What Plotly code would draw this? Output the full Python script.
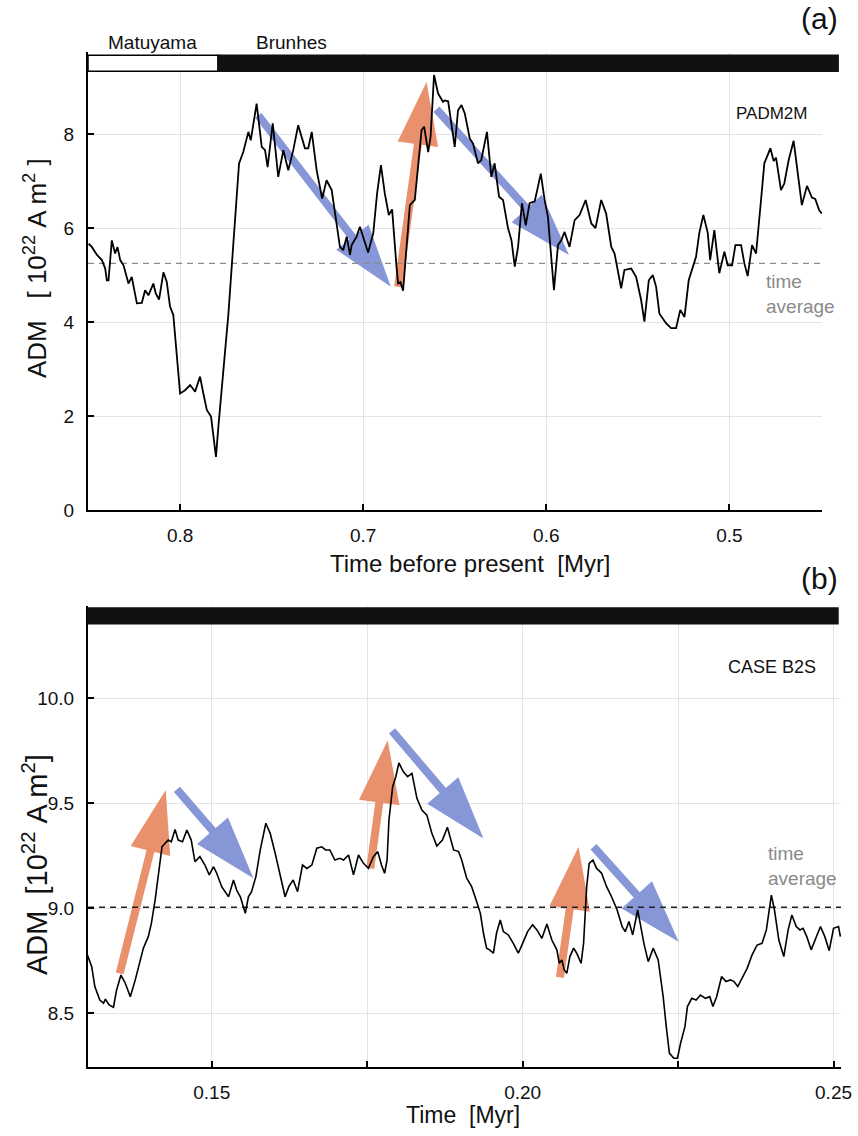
import plotly.graph_objects as go

# ---------------- data: panel (a) PADM2M ----------------
t_a = [0.8500,0.8482,0.8454,0.8427,0.8409,0.8400,0.8391,0.8373,0.8355,0.8342,
       0.8327,0.8309,0.8282,0.8264,0.8236,0.8209,0.8191,0.8173,0.8146,0.8133,
       0.8115,0.8091,0.8073,0.8055,0.8037,0.8018,0.8000,0.7973,0.7945,0.7918,
       0.7891,0.7873,0.7854,0.7831,0.7818,0.7804,0.7791,0.7772,0.7754,0.7736,
       0.7718,0.7700,0.7678,0.7655,0.7627,0.7614,0.7600,0.7582,0.7554,0.7536,
       0.7522,0.7494,0.7464,0.7436,0.7409,0.7382,0.7355,0.7318,0.7300,0.7281,
       0.7254,0.7224,0.7200,0.7172,0.7127,0.7109,0.7090,0.7072,0.7063,0.7036,
       0.7018,0.7000,0.6973,0.6945,0.6924,0.6903,0.6882,0.6860,0.6842,0.6818,
       0.6809,0.6796,0.6782,0.6763,0.6745,0.6718,0.6700,0.6681,0.6667,0.6645,
       0.6632,0.6613,0.6591,0.6564,0.6554,0.6536,0.6500,0.6482,0.6463,0.6445,
       0.6418,0.6400,0.6373,0.6355,0.6324,0.6300,0.6282,0.6258,0.6236,0.6209,
       0.6190,0.6172,0.6154,0.6133,0.6112,0.6091,0.6063,0.6030,0.6009,0.5991,
       0.5958,0.5936,0.5918,0.5900,0.5873,0.5845,0.5818,0.5785,0.5754,0.5731,
       0.5700,0.5673,0.5645,0.5627,0.5591,0.5573,0.5536,0.5509,0.5482,0.5464,
       0.5440,0.5418,0.5400,0.5382,0.5345,0.5318,0.5291,0.5268,0.5245,0.5222,
       0.5182,0.5164,0.5142,0.5118,0.5105,0.5082,0.5055,0.5027,0.5009,0.4985,
       0.4967,0.4936,0.4918,0.4900,0.4876,0.4854,0.4827,0.4809,0.4776,0.4758,
       0.4745,0.4718,0.4700,0.4676,0.4649,0.4627,0.4604,0.4576,0.4549,0.4531,
       0.4509,0.4494]
adm_a = [5.67,5.60,5.43,5.32,5.14,4.89,4.89,5.74,5.46,5.60,
         5.32,5.21,4.82,4.96,4.40,4.41,4.68,4.57,4.82,4.61,
         4.48,5.06,4.86,4.33,4.15,3.19,2.48,2.55,2.66,2.52,
         2.84,2.48,2.13,1.99,1.63,1.13,1.77,2.55,3.40,4.18,
         5.18,6.24,7.38,7.62,8.05,7.87,8.26,8.65,7.73,7.66,
         7.30,8.23,7.09,7.66,7.23,7.66,8.19,7.70,7.70,8.05,
         7.23,6.63,7.02,6.81,5.60,5.53,5.82,5.43,5.64,5.82,
         6.03,5.82,5.48,5.89,6.74,7.34,6.74,6.28,6.40,5.18,
         4.82,4.85,4.67,5.60,6.49,6.60,7.38,8.09,8.16,7.62,
         7.94,9.26,8.87,8.69,8.72,8.70,7.73,8.51,8.62,8.44,
         7.91,7.80,7.38,7.45,8.05,7.09,7.38,6.67,6.60,6.00,
         5.74,5.18,5.60,6.53,6.06,6.53,6.57,7.16,6.60,6.24,
         4.68,5.64,5.74,5.92,5.60,6.17,6.28,6.60,6.10,6.00,
         6.60,6.31,5.60,5.46,4.72,5.11,5.14,4.96,4.47,4.01,
         4.89,5.00,4.75,4.18,3.97,3.87,3.87,4.26,4.11,4.89,
         5.39,5.90,6.28,5.90,5.32,5.96,5.04,5.50,5.21,5.21,
         5.64,5.64,5.25,4.98,5.64,5.46,6.60,7.38,7.70,7.43,
         7.50,6.81,6.95,7.45,7.86,7.23,6.49,6.90,6.65,6.62,
         6.38,6.31]
avg_a = 5.25
xrange_a = [0.8503, 0.4494]
yrange_a = [0.0, 9.75]
xticks_a = [0.8, 0.7, 0.6, 0.5]
xticklabels_a = ["0.8", "0.7", "0.6", "0.5"]
yticks_a = [0, 2, 4, 6, 8]
boundary_a = 0.7793          # Matuyama / Brunhes
bar_a = [9.34, 9.68]

# arrows panel (a): (tail_t, tail_v, tip_t, tip_v)
arrows_a_blue = [(0.7573, 8.40, 0.6849, 4.75), (0.6600, 8.53, 0.5876, 5.43)]
arrows_a_orange = [(0.6809, 4.75, 0.6654, 9.11)]

# ---------------- data: panel (b) CASE B2S ----------------
t_b = [0.1299,0.1307,0.1312,0.1320,0.1326,0.1329,0.1335,0.1342,0.1347,0.1354,
       0.1361,0.1369,0.1377,0.1385,0.1390,0.1398,0.1403,0.1409,0.1414,0.1420,
       0.1425,0.1430,0.1435,0.1441,0.1446,0.1453,0.1460,0.1467,0.1473,0.1481,
       0.1489,0.1496,0.1503,0.1508,0.1516,0.1527,0.1535,0.1540,0.1546,0.1554,
       0.1559,0.1564,0.1571,0.1578,0.1587,0.1594,0.1602,0.1610,0.1618,0.1624,
       0.1631,0.1638,0.1646,0.1653,0.1661,0.1669,0.1677,0.1683,0.1690,0.1698,
       0.1706,0.1712,0.1720,0.1728,0.1736,0.1744,0.1752,0.1760,0.1767,0.1773,
       0.1778,0.1782,0.1785,0.1791,0.1796,0.1801,0.1808,0.1815,0.1822,0.1830,
       0.1838,0.1846,0.1854,0.1862,0.1871,0.1879,0.1889,0.1897,0.1902,0.1910,
       0.1918,0.1926,0.1932,0.1937,0.1942,0.1947,0.1953,0.1958,0.1964,0.1969,
       0.1977,0.1985,0.1993,0.2000,0.2008,0.2016,0.2023,0.2031,0.2039,0.2047,
       0.2055,0.2059,0.2063,0.2067,0.2071,0.2076,0.2082,0.2087,0.2094,0.2098,
       0.2103,0.2107,0.2113,0.2119,0.2127,0.2135,0.2143,0.2152,0.2160,0.2165,
       0.2171,0.2177,0.2185,0.2189,0.2195,0.2202,0.2210,0.2218,0.2226,0.2231,
       0.2236,0.2243,0.2249,0.2254,0.2261,0.2265,0.2272,0.2279,0.2286,0.2294,
       0.2301,0.2306,0.2312,0.2320,0.2327,0.2334,0.2340,0.2346,0.2353,0.2361,
       0.2369,0.2377,0.2385,0.2392,0.2400,0.2405,0.2412,0.2420,0.2427,0.2433,
       0.2440,0.2446,0.2451,0.2457,0.2464,0.2472,0.2479,0.2486,0.2493,0.2500,
       0.2508,0.2511]
adm_b = [8.786,8.722,8.627,8.563,8.548,8.567,8.540,8.529,8.611,8.682,
         8.643,8.579,8.659,8.754,8.810,8.865,8.929,9.040,9.167,9.293,
         9.310,9.325,9.317,9.376,9.325,9.317,9.373,9.325,9.222,9.246,
         9.206,9.159,9.198,9.167,9.103,9.055,9.135,9.087,9.055,8.976,
         9.055,9.079,9.151,9.278,9.405,9.357,9.262,9.151,9.055,9.103,
         9.135,9.079,9.206,9.190,9.206,9.286,9.293,9.278,9.278,9.230,
         9.238,9.230,9.254,9.159,9.254,9.214,9.190,9.246,9.270,9.206,
         9.167,9.230,9.420,9.579,9.627,9.693,9.651,9.627,9.643,9.524,
         9.468,9.444,9.357,9.297,9.325,9.386,9.278,9.270,9.230,9.143,
         9.103,9.032,8.976,8.881,8.810,8.802,8.786,8.881,8.944,8.889,
         8.873,8.833,8.786,8.833,8.889,8.921,8.897,8.857,8.925,8.849,
         8.802,8.738,8.754,8.706,8.690,8.770,8.810,8.786,8.738,8.833,
         9.103,9.214,9.230,9.190,9.167,9.103,9.055,8.992,8.913,8.889,
         8.937,8.873,8.992,8.929,8.833,8.746,8.810,8.754,8.579,8.436,
         8.310,8.286,8.286,8.357,8.436,8.532,8.571,8.563,8.587,8.571,
         8.579,8.532,8.579,8.675,8.651,8.659,8.651,8.627,8.667,8.714,
         8.778,8.825,8.833,8.897,9.063,8.992,8.849,8.770,8.897,8.968,
         8.913,8.897,8.905,8.865,8.802,8.865,8.913,8.865,8.798,8.905,
         8.913,8.865]
avg_b = 9.005
xrange_b = [0.1301, 0.2512]
yrange_b = [8.244, 10.44]
xticks_b = [0.15, 0.20, 0.25]
xticklabels_b = ["0.15", "0.20", "0.25"]
xminor_b = 0.025
yticks_b = [8.5, 9.0, 9.5, 10.0]
yticklabels_b = ["8.5", "9.0", "9.5", "10.0"]
bar_b = [10.355, 10.43]

arrows_b_blue = [(0.1444, 9.567, 0.1567, 9.143), (0.1790, 9.845, 0.1937, 9.333),
                 (0.2114, 9.293, 0.2251, 8.841)]
arrows_b_orange = [(0.1352, 8.690, 0.1426, 9.563), (0.1755, 9.190, 0.1783, 9.800),
                   (0.2060, 8.671, 0.2090, 9.293)]

BLUE = "#8796d6"
ORANGE = "#e9916d"
W, H = 858, 1136
NB = "\u00a0"

fig = go.Figure()


def add_arrows(arrows, color, xa, ya):
    for (t0, v0, t1, v1) in arrows:
        fig.add_trace(go.Scatter(
            x=[t0, t1], y=[v0, v1], xaxis=xa, yaxis=ya, mode="lines+markers",
            line=dict(color=color, width=8),
            marker=dict(symbol="arrow", size=[0, 66], angleref="previous", color=color,
                        opacity=1, line=dict(width=0)),
            showlegend=False, hoverinfo="skip"))


add_arrows(arrows_a_blue, BLUE, "x", "y")
add_arrows(arrows_a_orange, ORANGE, "x", "y")
add_arrows(arrows_b_blue, BLUE, "x2", "y2")
add_arrows(arrows_b_orange, ORANGE, "x2", "y2")

# time averages
fig.add_trace(go.Scatter(x=xrange_a, y=[avg_a, avg_a], mode="lines", xaxis="x", yaxis="y",
                         line=dict(color="#8c8c8c", width=1.3, dash="6px,5px"),
                         showlegend=False, hoverinfo="skip"))
fig.add_trace(go.Scatter(x=xrange_b, y=[avg_b, avg_b], mode="lines", xaxis="x2", yaxis="y2",
                         line=dict(color="#222222", width=1.3, dash="6px,5px"),
                         showlegend=False, hoverinfo="skip"))

# curves
fig.add_trace(go.Scatter(x=t_a, y=adm_a, mode="lines", xaxis="x", yaxis="y",
                         line=dict(color="black", width=1.8), showlegend=False))
fig.add_trace(go.Scatter(x=t_b, y=adm_b, mode="lines", xaxis="x2", yaxis="y2",
                         line=dict(color="black", width=1.6), showlegend=False))

TICKFONT = dict(family="Liberation Sans Narrow, Arial Narrow, sans-serif", size=19, color="#111")
common = dict(showline=True, linecolor="black", linewidth=2, ticks="inside", ticklen=6,
              tickwidth=1.5, tickcolor="black", showgrid=True, gridcolor="#e4e4e4",
              gridwidth=1, zeroline=False, tickfont=TICKFONT, mirror=False, automargin=False)

fig.update_layout(
    width=W, height=H, margin=dict(l=0, r=0, t=0, b=0, pad=0),
    paper_bgcolor="white", plot_bgcolor="white",
    font=dict(family="Liberation Sans, Arial, sans-serif", color="#111"),
    xaxis=dict(domain=[88 / W, 822 / W], anchor="y", range=xrange_a,
               tickvals=xticks_a, ticktext=xticklabels_a, ticklabelstandoff=7, **common),
    yaxis=dict(domain=[1 - 510 / H, 1 - 52 / H], anchor="x", range=yrange_a,
               tickvals=yticks_a, ticklabelstandoff=8, **common),
    xaxis2=dict(domain=[88 / W, 841 / W], anchor="y2", range=xrange_b,
                tickvals=xticks_b, ticktext=xticklabels_b, ticklabelstandoff=7,
                minor=dict(dtick=xminor_b, tick0=xticks_b[0], ticks="inside", ticklen=6,
                           tickwidth=1.5, tickcolor="black", showgrid=True,
                           gridcolor="#e4e4e4", gridwidth=1),
                **common),
    yaxis2=dict(domain=[1 - 1067 / H, 1 - 606 / H], anchor="x2", range=yrange_b,
                tickvals=yticks_b, ticktext=yticklabels_b, ticklabelstandoff=8, **common),
)

# polarity bars (domain coordinates computed from data values)
span_a = xrange_a[0] - xrange_a[1]
fb = (xrange_a[0] - boundary_a) / span_a
ya0 = (bar_a[0] - yrange_a[0]) / (yrange_a[1] - yrange_a[0])
ya1 = (bar_a[1] - yrange_a[0]) / (yrange_a[1] - yrange_a[0])
fig.add_shape(type="rect", xref="x domain", yref="y domain", x0=0, x1=fb, y0=ya0, y1=ya1,
              fillcolor="white", line=dict(color="black", width=1.5), layer="above")
fig.add_shape(type="rect", xref="x domain", yref="y domain", x0=fb, x1=1.022, y0=ya0, y1=ya1,
              fillcolor="#111111", line=dict(color="#111111", width=1.5), layer="above")
yb0 = (bar_b[0] - yrange_b[0]) / (yrange_b[1] - yrange_b[0])
yb1 = (bar_b[1] - yrange_b[0]) / (yrange_b[1] - yrange_b[0])
fig.add_shape(type="rect", xref="x2 domain", yref="y2 domain", x0=0, x1=0.996, y0=yb0, y1=yb1,
              fillcolor="#111111", line=dict(color="#111111", width=1.5), layer="above")


def ann(text, px, py, size, color="#111", xanchor="center", family=None, angle=0, align="left"):
    f = dict(size=size, color=color)
    if family:
        f["family"] = family
    fig.add_annotation(text=text, x=px / W, y=1 - py / H, xref="paper", yref="paper",
                       xanchor=xanchor, yanchor="middle", showarrow=False, font=f,
                       textangle=angle, align=align)


NARROW = "Liberation Sans Narrow, Arial Narrow, sans-serif"
ann("(a)", 840, 18, 30, xanchor="right", family=NARROW)
ann("Matuyama", 152, 42, 19)
ann("Brunhes", 291, 42, 19)
ann("PADM2M", 771, 113, 17)
ann("time<br>average", 764, 294, 19, color="#8a8a8a", xanchor="left")
ann("Time before present" + NB * 2 + "[Myr]", 470, 563, 24, family=NARROW)
ann("ADM" + NB * 3 + "[" + NB + "10<sup>22</sup>" + NB + "A m<sup>2</sup>" + NB + "]",
    35, 268, 26, angle=-90)

ann("(b)", 840, 578, 30, xanchor="right", family=NARROW)
ann("CASE B2S", 772, 667, 18, family=NARROW)
ann("time<br>average", 766, 866, 19, color="#8a8a8a", xanchor="left")
ann("Time" + NB * 2 + "[Myr]", 463, 1115, 23, family=NARROW)
ann("ADM" + NB * 2 + "[10<sup>22</sup>" + NB + "A m<sup>2</sup>]", 35, 865, 29, angle=-90)

fig.write_html("out.html", config=dict(displayModeBar=False),
               post_script="document.body.style.margin='0';document.body.style.overflow='hidden';")
